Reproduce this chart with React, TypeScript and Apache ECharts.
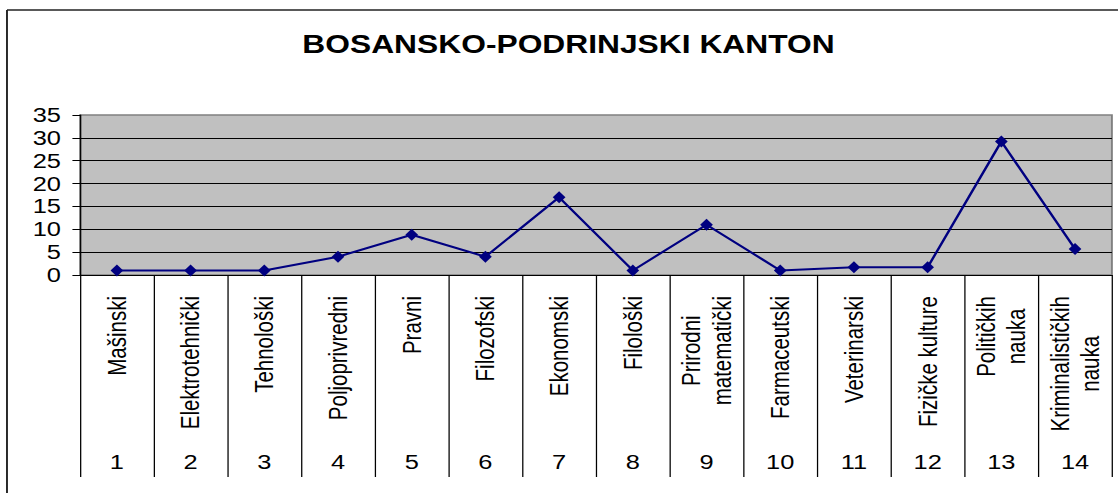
import React, { useEffect, useRef } from "react";
import * as echarts from "echarts";

const TITLE = "BOSANSKO-PODRINJSKI KANTON";
const faculties = [
  "Mašinski",
  "Elektrotehnički",
  "Tehnološki",
  "Poljoprivredni",
  "Pravni",
  "Filozofski",
  "Ekonomski",
  "Filološki",
  "Prirodni\nmatematički",
  "Farmaceutski",
  "Veterinarski",
  "Fizičke kulture",
  "Političkih\nnauka",
  "Kriminalističkih\nnauka",
];
const numbers = ["1", "2", "3", "4", "5", "6", "7", "8", "9", "10", "11", "12", "13", "14"];
const values = [1, 1, 1, 4, 8.8, 4, 17, 1, 11, 1, 1.7, 1.7, 29.2, 5.7];
const yTicks = { min: 0, max: 35, interval: 5 };

const FONT = "'Liberation Sans', Arial, Helvetica, sans-serif";
const W = 880;
const H = 493;
const SX = 1118 / W;

export default function App() {
  const ref = useRef<HTMLDivElement>(null);
  useEffect(() => {
    if (!ref.current) return;
    const chart = echarts.init(ref.current, null, { renderer: "svg" });
    chart.setOption({
      animation: false,
      backgroundColor: "#ffffff",
      title: {
        text: TITLE,
        left: 238,
        top: 32,
        padding: 0,
        textStyle: { fontFamily: FONT, fontSize: 25, fontWeight: "bold", color: "#000" },
      },
      graphic: [
        { type: "line", shape: { x1: 5.5, y1: 10, x2: W, y2: 10 }, style: { stroke: "#222", lineWidth: 1.5 } },
        { type: "line", shape: { x1: 5.5, y1: 10, x2: 5.5, y2: H }, style: { stroke: "#222", lineWidth: 1.5 } },
      ],
      grid: {
        left: 63,
        right: 4.8,
        top: 115,
        bottom: 218,
        show: true,
        backgroundColor: "#C0C0C0",
        borderColor: "#808080",
        borderWidth: 1.5,
      },
      xAxis: [
        {
          type: "category",
          data: faculties,
          position: "bottom",
          boundaryGap: true,
          axisLine: { show: true, lineStyle: { color: "#000", width: 1 } },
          axisTick: { show: true, length: 202, inside: false, lineStyle: { color: "#000", width: 1 } },
          axisLabel: {
            interval: 0,
            rotate: 90,
            margin: 21,
            color: "#000",
            fontFamily: FONT,
            fontSize: 20.5,
            formatter: (v: string) => v.split("\n").map((l) => `{c|${l}}`).join("\n"),
            rich: {
              c: { align: "center", fontFamily: FONT, fontSize: 20.5, lineHeight: 24, color: "#000" },
            },
          },
        },
        {
          type: "category",
          data: numbers,
          position: "bottom",
          boundaryGap: true,
          axisLine: { show: false },
          axisTick: { show: false },
          axisLabel: {
            interval: 0,
            margin: 177,
            color: "#000",
            fontFamily: FONT,
            fontSize: 20,
          },
        },
      ],
      yAxis: {
        type: "value",
        min: yTicks.min,
        max: yTicks.max,
        interval: yTicks.interval,
        axisLine: { show: true, lineStyle: { color: "#000", width: 1 } },
        axisTick: { show: true, length: 6, lineStyle: { color: "#000" } },
        axisLabel: { margin: 15, color: "#000", fontFamily: FONT, fontSize: 20 },
        splitLine: { show: true, showMaxLine: false, showMinLine: false, lineStyle: { color: "#000", width: 1 } },
      },
      series: [
        {
          type: "line",
          data: values,
          xAxisIndex: 0,
          symbol: "diamond",
          symbolSize: [10, 12],
          lineStyle: { color: "#000080", width: 2 },
          itemStyle: { color: "#000080" },
        },
      ],
    });
    return () => chart.dispose();
  }, []);
  return (
    <div
      ref={ref}
      style={{
        position: "absolute",
        left: 0,
        top: 0,
        width: W,
        height: H,
        transform: `scaleX(${SX})`,
        transformOrigin: "0 0",
      }}
    />
  );
}
